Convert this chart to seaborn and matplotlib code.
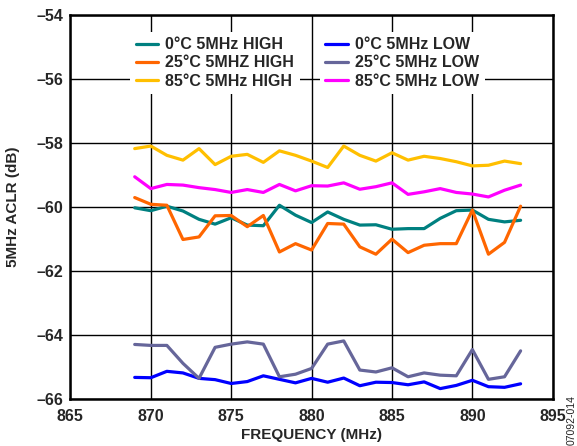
import pandas as pd
import matplotlib.pyplot as plt
import seaborn as sns

freq = list(range(869, 894))

high_0c = [-60.02, -60.11, -59.97, -60.12, -60.38, -60.53, -60.33, -60.56, -60.58, -59.94,
           -60.25, -60.48, -60.15, -60.38, -60.56, -60.55, -60.69, -60.67, -60.67, -60.35,
           -60.11, -60.09, -60.38, -60.46, -60.41]
high_25c = [-59.70, -59.91, -59.94, -61.01, -60.93, -60.27, -60.26, -60.61, -60.26, -61.40,
            -61.14, -61.34, -60.51, -60.53, -61.24, -61.47, -61.00, -61.42, -61.19, -61.14,
            -61.14, -60.09, -61.47, -61.10, -59.97]
high_85c = [-58.17, -58.09, -58.38, -58.53, -58.17, -58.67, -58.41, -58.35, -58.60, -58.24,
            -58.38, -58.56, -58.76, -58.09, -58.38, -58.56, -58.30, -58.53, -58.41, -58.48,
            -58.58, -58.71, -58.69, -58.56, -58.64]
low_0c = [-65.32, -65.33, -65.13, -65.18, -65.35, -65.39, -65.51, -65.45, -65.27, -65.38,
          -65.49, -65.35, -65.47, -65.34, -65.58, -65.47, -65.48, -65.55, -65.46, -65.67,
          -65.57, -65.41, -65.61, -65.63, -65.52]
low_25c = [-64.29, -64.32, -64.32, -64.88, -65.35, -64.38, -64.28, -64.21, -64.28, -65.30,
           -65.22, -65.04, -64.28, -64.18, -65.09, -65.15, -65.02, -65.30, -65.18, -65.25,
           -65.27, -64.45, -65.38, -65.30, -64.49]
low_85c = [-59.05, -59.42, -59.29, -59.31, -59.39, -59.45, -59.54, -59.45, -59.54, -59.29,
           -59.49, -59.33, -59.34, -59.24, -59.44, -59.36, -59.24, -59.60, -59.52, -59.42,
           -59.54, -59.59, -59.68, -59.47, -59.31]

series = {
    "0°C 5MHz HIGH": high_0c,
    "25°C 5MHZ HIGH": high_25c,
    "85°C 5MHz HIGH": high_85c,
    "0°C 5MHz LOW": low_0c,
    "25°C 5MHz LOW": low_25c,
    "85°C 5MHz LOW": low_85c,
}
colors = ["#008080", "#FF6600", "#FFBF00", "#0000FF", "#66669A", "#FF00FF"]

df = pd.concat([pd.DataFrame({"freq": freq, "aclr": v, "series": k}) for k, v in series.items()])

sns.set_style("white")
plt.rcParams["font.family"] = ["Liberation Sans", "DejaVu Sans"]
plt.rcParams["font.weight"] = "bold"

fig = plt.figure(figsize=(5.77, 4.46), dpi=100)
ax = fig.add_axes([0.122, 0.105, 0.836, 0.861])
sns.lineplot(data=df, x="freq", y="aclr", hue="series", palette=colors,
             linewidth=2.3, ax=ax, legend=False)

ax.set_xlim(865, 895)
ax.set_ylim(-66, -54)
ax.set_xticks(range(865, 896, 5))
ax.set_yticks(range(-66, -53, 2))
ax.set_yticklabels([f"\u2013{abs(v)}" for v in range(-66, -53, 2)])
ax.grid(True, color="black", linewidth=1.0)
ax.set_axisbelow(True)
for s in ax.spines.values():
    s.set_color("black")
    s.set_linewidth(1.8)
ax.tick_params(axis="x", labelsize=11.5, length=0, pad=7)
ax.tick_params(axis="y", labelsize=11.5, length=0, pad=5)
for t in ax.get_xticklabels() + ax.get_yticklabels():
    t.set_fontweight("bold")
ax.set_xlabel("FREQUENCY (MHz)", fontsize=11, fontweight="bold", labelpad=3)
ax.set_ylabel("5MHz ACLR (dB)", fontsize=11, fontweight="bold", labelpad=12)

lines = ax.get_lines()
names = list(series.keys())


def add_legend(handles, labels, x0):
    leg = ax.legend(handles, labels, loc="upper left", bbox_to_anchor=(x0, 0.957),
                    borderaxespad=0, frameon=True, fontsize=11.5, handlelength=1.4,
                    labelspacing=0.2, borderpad=0.35, handletextpad=0.45, framealpha=1)
    leg.get_frame().set_edgecolor("white")
    leg.get_frame().set_linewidth(0)
    leg.get_frame().set_boxstyle("square", pad=0)
    for t in leg.get_texts():
        t.set_fontweight("bold")
    return leg


leg1 = add_legend(lines[:3], names[:3], 0.124)
ax.add_artist(leg1)
add_legend(lines[3:], names[3:], 0.517)

fig.text(0.999, 0.003, "07092-014", rotation=90, fontsize=7.5, fontweight="normal",
         ha="right", va="bottom", color="#222222")

fig.savefig("out.png", dpi=100)
